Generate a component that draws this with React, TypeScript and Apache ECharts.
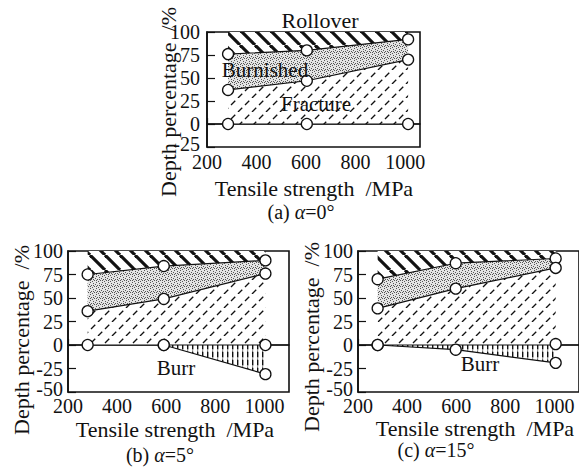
import React, { useEffect, useRef } from "react";
import * as echarts from "echarts";

// ---------- data ----------
// (a) alpha = 0°
const X_A = [285, 603, 1012];
const TOP_A = [76, 80, 92]; // rollover / burnished boundary
const MID_A = [37, 47, 70]; // burnished / fracture boundary
const ZERO_A = [0, 0, 0];

// (b) alpha = 5°
const X_B = [280, 590, 1004];
const TOP_B = [75, 84, 90];
const MID_B = [36, 49, 76];
const ZERO_B = [0, 0, 0];
const BURR_X_B = [590, 1004];
const BURR_B = [0, -31];

// (c) alpha = 15°
const X_C = [280, 598, 1005];
const TOP_C = [70, 87, 92];
const MID_C = [39, 60, 82];
const ZERO_X_C = [280, 1005];
const ZERO_C = [0, 1];
const BURR_C = [0, -5, -19];

const X_TICKS_MIN = 200;
const X_INTERVAL = 200;
const Y_INTERVAL = 25;
const Y_MAX = 100;
const X_MAX = [1060, 1100, 1100];
const Y_MIN = [-25, -50, -50];

const FONT = "'Liberation Serif', 'Times New Roman', serif";
const INK = "#111";

const zip = (xs: number[], ys: number[]) => xs.map((x, i) => [x, ys[i]]);

function makeHatch(w: number, h: number, dir: number, lw: number, dash?: number[]) {
  const c = document.createElement("canvas");
  c.width = w;
  c.height = h;
  const ctx = c.getContext("2d")!;
  ctx.fillStyle = "#fff";
  ctx.fillRect(0, 0, w, h);
  ctx.strokeStyle = INK;
  ctx.lineWidth = lw;
  if (dash) ctx.setLineDash(dash);
  for (const ox of [-w, 0, w]) {
    ctx.beginPath();
    if (dir === 1) {
      ctx.moveTo(ox, h);
      ctx.lineTo(ox + w, 0);
    } else {
      ctx.moveTo(ox, 0);
      ctx.lineTo(ox + w, h);
    }
    ctx.stroke();
  }
  return { image: c, repeat: "repeat", imageWidth: w, imageHeight: h };
}

function makeStipple() {
  const w = 6, h = 6;
  const c = document.createElement("canvas");
  c.width = w;
  c.height = h;
  const ctx = c.getContext("2d")!;
  ctx.fillStyle = "#e4e4e4";
  ctx.fillRect(0, 0, w, h);
  ctx.fillStyle = "#555";
  const dots = [[0, 0], [3, 1], [1, 3], [4, 4], [2, 5], [5, 2], [0, 4], [3, 3]];
  dots.forEach(([x, y]) => ctx.fillRect(x, y, 1, 1));
  return { image: c, repeat: "repeat", imageWidth: w, imageHeight: h };
}

function makeBurr() {
  const w = 5, h = 8;
  const c = document.createElement("canvas");
  c.width = w;
  c.height = h;
  const ctx = c.getContext("2d")!;
  ctx.fillStyle = "#fff";
  ctx.fillRect(0, 0, w, h);
  ctx.fillStyle = INK;
  ctx.fillRect(2, 0, 1.4, 5.5);
  ctx.fillRect(2, 6.6, 1.2, 1);
  return { image: c, repeat: "repeat", imageWidth: w, imageHeight: h };
}

export default function App() {
  const ref = useRef<HTMLDivElement>(null);

  useEffect(() => {
    if (!ref.current) return;
    const chart = echarts.init(ref.current, null, { renderer: "svg" });

    const rollFill = makeHatch(15, 15, -1, 3.2);
    const fracFill = makeHatch(14, 14, 1, 1.35, [6, 3.9]);
    const burnFill = makeStipple();
    const burrFill = makeBurr();

    const grids = [
      { left: 207, top: 32, width: 213, height: 115 },
      { left: 68, top: 251, width: 221, height: 141 },
      { left: 358, top: 251, width: 224, height: 141 },
    ];

    const xAxes = grids.map((_, i) => ({
      gridIndex: i,
      type: "value",
      min: X_TICKS_MIN,
      max: X_MAX[i],
      interval: X_INTERVAL,
      axisLine: { show: true, lineStyle: { color: INK, width: 1.6 } },
      axisTick: { show: true, inside: true, length: 6, lineStyle: { color: INK, width: 1.2 } },
      axisLabel: {
        showMinLabel: true,
        showMaxLabel: false,
        hideOverlap: false,
        margin: i === 0 ? 5 : 4,
        color: INK,
        fontFamily: FONT,
        fontSize: 20,
        formatter: (v: number) => String(v),
      },
      splitLine: { show: false },
    }));

    const yAxes = grids.map((_, i) => ({
      gridIndex: i,
      type: "value",
      min: Y_MIN[i],
      max: Y_MAX,
      interval: Y_INTERVAL,
      axisLine: { show: true, lineStyle: { color: INK, width: 1.6 } },
      axisTick: { show: true, inside: true, length: 8, lineStyle: { color: INK, width: 1.2 } },
      axisLabel: {
        showMinLabel: true,
        showMaxLabel: true,
        hideOverlap: false,
        margin: i === 0 ? 7 : 5,
        color: INK,
        fontFamily: FONT,
        fontSize: 20,
        formatter: (v: number) => (v === Y_MIN[i] ? `{m|${v}}` : String(v)),
        rich: {
          m: { fontFamily: FONT, fontSize: 20, color: INK, padding: [0, 0, 6, 0] },
        },
      },
      splitLine: { show: false },
    }));

    const poly = (idx: number, upper: number[][], lower: number[][], fill: any, name: string) => ({
      name,
      type: "custom",
      coordinateSystem: "cartesian2d",
      xAxisIndex: idx,
      yAxisIndex: idx,
      data: [[upper[0][0], upper[0][1]]],
      silent: true,
      z: 1,
      renderItem: (_p: any, api: any) => {
        const pts = [...upper, ...lower.slice().reverse()].map((p) => api.coord(p));
        return {
          type: "polygon",
          shape: { points: pts },
          style: { fill, stroke: "none" },
        };
      },
    });

    const marker = {
      symbol: "circle",
      symbolSize: 11,
      itemStyle: { color: "#fff", borderColor: INK, borderWidth: 1.3, opacity: 1 },
    };

    const line = (idx: number, data: number[][], name: string) => ({
      name,
      type: "line",
      xAxisIndex: idx,
      yAxisIndex: idx,
      data,
      ...marker,
      showSymbol: true,
      lineStyle: { color: INK, width: 1.2 },
      z: 5,
      silent: true,
    });

    const dots = (idx: number, data: number[][], name: string) => ({
      name,
      type: "scatter",
      xAxisIndex: idx,
      yAxisIndex: idx,
      data,
      ...marker,
      z: 6,
      silent: true,
    });

    const zeroLine = (idx: number) => ({
      name: "zero",
      type: "line",
      xAxisIndex: idx,
      yAxisIndex: idx,
      data: [
        [X_TICKS_MIN, 0],
        [X_MAX[idx], 0],
      ],
      showSymbol: false,
      symbol: "none",
      lineStyle: { color: INK, width: 1.2 },
      z: 3,
      silent: true,
    });

    const at = (xs: number[], v: number) => xs.map((x) => [x, v]);

    const series: any[] = [
      // (a)
      poly(0, at(X_A, Y_MAX), zip(X_A, TOP_A), rollFill, "Rollover"),
      poly(0, zip(X_A, TOP_A), zip(X_A, MID_A), burnFill, "Burnished"),
      poly(0, zip(X_A, MID_A), zip(X_A, ZERO_A), fracFill, "Fracture"),
      zeroLine(0),
      line(0, zip(X_A, TOP_A), "top"),
      line(0, zip(X_A, MID_A), "mid"),
      dots(0, zip(X_A, ZERO_A), "zero pts"),
      // (b)
      poly(1, at(X_B, Y_MAX), zip(X_B, TOP_B), rollFill, "Rollover"),
      poly(1, zip(X_B, TOP_B), zip(X_B, MID_B), burnFill, "Burnished"),
      poly(1, zip(X_B, MID_B), zip(X_B, ZERO_B), fracFill, "Fracture"),
      poly(1, at(BURR_X_B, 0), zip(BURR_X_B, BURR_B), burrFill, "Burr"),
      zeroLine(1),
      line(1, zip(X_B, TOP_B), "top"),
      line(1, zip(X_B, MID_B), "mid"),
      line(1, zip(BURR_X_B, BURR_B), "burr"),
      dots(1, zip(X_B, ZERO_B), "zero pts"),
      // (c)
      poly(2, at(X_C, Y_MAX), zip(X_C, TOP_C), rollFill, "Rollover"),
      poly(2, zip(X_C, TOP_C), zip(X_C, MID_C), burnFill, "Burnished"),
      poly(2, zip(X_C, MID_C), at(X_C, 0), fracFill, "Fracture"),
      poly(2, at(X_C, 0), zip(X_C, BURR_C), burrFill, "Burr"),
      zeroLine(2),
      line(2, zip(X_C, TOP_C), "top"),
      line(2, zip(X_C, MID_C), "mid"),
      line(2, zip(X_C, BURR_C), "burr"),
      dots(2, zip(ZERO_X_C, ZERO_C), "zero pts"),
    ];

    const txt = (text: string, x: number, y: number, size: number, extra: any = {}) => ({
      type: "text",
      x,
      y,
      z: 20,
      silent: true,
      ...extra,
      style: {
        text,
        fill: INK,
        font: `${size}px ${FONT}`,
        fontFamily: FONT,
        fontSize: size,
        align: "center",
        verticalAlign: "middle",
        textAlign: "center",
        textVerticalAlign: "middle",
        ...(extra.style || {}),
      },
    });

    const cap = (label: string, angle: string, x: number, y: number) =>
      txt(`(${label}) {i|α}=${angle}°`, x, y, 20, {
        style: {
          rich: {
            i: { fontFamily: FONT, fontSize: 20, fontStyle: "italic", fill: INK },
          },
        },
      });

    const yName = "Depth percentage  /%";
    const xName = "Tensile strength  /MPa";

    const graphic = [
      txt("Rollover", 320, 20, 22),
      txt("Burnished", 265, 70, 21),
      txt("Fracture", 316, 104, 21),
      txt("Burr", 176, 368, 21),
      txt("Burr", 480, 364, 21),
      txt(yName, 168, 102, 22, { rotation: Math.PI / 2 }),
      txt(yName, 21, 340, 22, { rotation: Math.PI / 2 }),
      txt(yName, 311, 337, 22, { rotation: Math.PI / 2 }),
      txt(xName, 314, 188, 22),
      txt(xName, 175, 429, 22),
      txt(xName, 475, 428, 22),
      cap("a", "0", 301, 212),
      cap("b", "5", 160, 455),
      cap("c", "15", 436, 450),
    ];

    chart.setOption({
      animation: false,
      backgroundColor: "#fff",
      grid: grids.map((g) => ({ ...g, show: true, borderColor: INK, borderWidth: 1.6, backgroundColor: "transparent" })),
      xAxis: xAxes,
      yAxis: yAxes,
      series,
      graphic,
    });

    return () => chart.dispose();
  }, []);

  return (
    <div
      ref={ref}
      style={{ position: "fixed", left: 0, top: 0, width: 579, height: 468, background: "#fff" }}
    />
  );
}
